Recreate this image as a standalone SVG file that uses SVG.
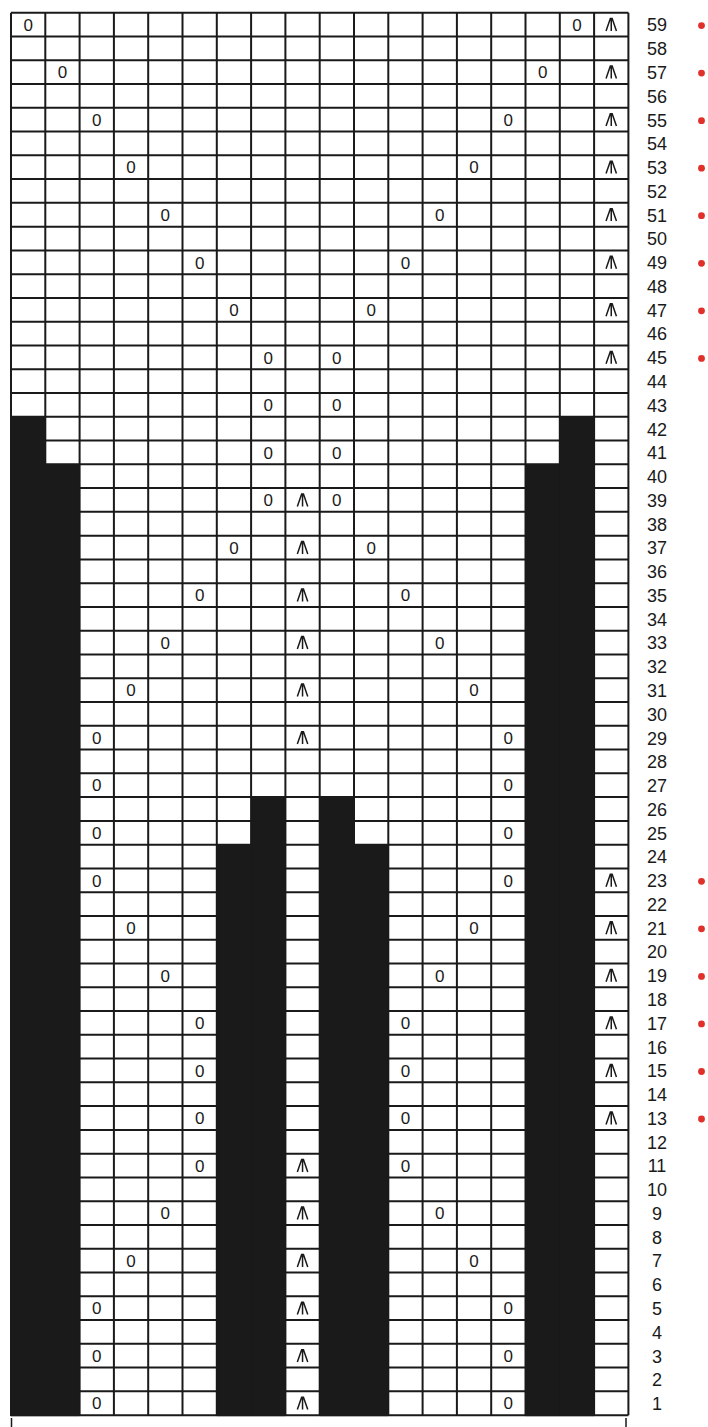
<svg xmlns="http://www.w3.org/2000/svg" width="708" height="1427" viewBox="0 0 708 1427">
<defs>
<style>
.grid{fill:none;stroke:#1a1a1a;stroke-width:2}
.blk{fill:#1a1a1a}
.yo{font-family:"Liberation Sans",Arial,sans-serif;font-size:17px;fill:#1a1a1a;text-anchor:middle}
.lbl{font-family:"Liberation Sans",Arial,sans-serif;font-size:18px;fill:#1a1a1a;text-anchor:middle}
.dot{fill:#e0302a}
</style>
<g id="dec"><path d="M-5.2,6.2 L-0.9,-6.2 H0.9 L5.2,6.2 M0,-6.2 V6.2" fill="none" stroke="#1a1a1a" stroke-width="1.5"/></g>
</defs>
<rect width="708" height="1427" fill="#ffffff"/>
<g id="grid">
<path class="grid" d="M11,12.7H628.4M11,36.47H628.4M11,60.24H628.4M11,84.01H628.4M11,107.78H628.4M11,131.55H628.4M11,155.32H628.4M11,179.09H628.4M11,202.86H628.4M11,226.63H628.4M11,250.4H628.4M11,274.17H628.4M11,297.94H628.4M11,321.71H628.4M11,345.48H628.4M11,369.25H628.4M11,393.02H628.4M11,416.79H628.4M11,440.56H628.4M11,464.33H628.4M11,488.1H628.4M11,511.87H628.4M11,535.64H628.4M11,559.41H628.4M11,583.18H628.4M11,606.95H628.4M11,630.72H628.4M11,654.49H628.4M11,678.26H628.4M11,702.03H628.4M11,725.8H628.4M11,749.57H628.4M11,773.34H628.4M11,797.11H628.4M11,820.88H628.4M11,844.65H628.4M11,868.42H628.4M11,892.19H628.4M11,915.96H628.4M11,939.73H628.4M11,963.5H628.4M11,987.27H628.4M11,1011.04H628.4M11,1034.81H628.4M11,1058.58H628.4M11,1082.35H628.4M11,1106.12H628.4M11,1129.89H628.4M11,1153.66H628.4M11,1177.43H628.4M11,1201.2H628.4M11,1224.97H628.4M11,1248.74H628.4M11,1272.51H628.4M11,1296.28H628.4M11,1320.05H628.4M11,1343.82H628.4M11,1367.59H628.4M11,1391.36H628.4M11,1415.13H628.4"/>
<path class="grid" d="M11,12.7V1415.13M45.3,12.7V1415.13M79.6,12.7V1415.13M113.9,12.7V1415.13M148.2,12.7V1415.13M182.5,12.7V1415.13M216.8,12.7V1415.13M251.1,12.7V1415.13M285.4,12.7V1415.13M319.7,12.7V1415.13M354,12.7V1415.13M388.3,12.7V1415.13M422.6,12.7V1415.13M456.9,12.7V1415.13M491.2,12.7V1415.13M525.5,12.7V1415.13M559.8,12.7V1415.13M594.1,12.7V1415.13M628.4,12.7V1415.13"/>
</g>
<g id="nostitch">
<rect class="blk" x="10" y="416.79" width="35.3" height="999.34"/>
<rect class="blk" x="45.3" y="464.33" width="34.3" height="951.8"/>
<rect class="blk" x="559.8" y="416.79" width="34.3" height="999.34"/>
<rect class="blk" x="525.5" y="464.33" width="34.3" height="951.8"/>
<rect class="blk" x="251.1" y="797.11" width="34.3" height="619.02"/>
<rect class="blk" x="319.7" y="797.11" width="34.3" height="619.02"/>
<rect class="blk" x="216.8" y="844.65" width="34.3" height="571.48"/>
<rect class="blk" x="354" y="844.65" width="34.3" height="571.48"/>
</g>
<g id="yarnovers">
<text class="yo" x="28.15" y="30.8">0</text><text class="yo" x="576.95" y="30.8">0</text>
<text class="yo" x="62.45" y="78.3">0</text><text class="yo" x="542.65" y="78.3">0</text>
<text class="yo" x="96.75" y="125.9">0</text><text class="yo" x="508.35" y="125.9">0</text>
<text class="yo" x="131.05" y="173.4">0</text><text class="yo" x="474.05" y="173.4">0</text>
<text class="yo" x="165.35" y="220.9">0</text><text class="yo" x="439.75" y="220.9">0</text>
<text class="yo" x="199.65" y="268.5">0</text><text class="yo" x="405.45" y="268.5">0</text>
<text class="yo" x="233.95" y="316.0">0</text><text class="yo" x="371.15" y="316.0">0</text>
<text class="yo" x="268.25" y="363.6">0</text><text class="yo" x="336.85" y="363.6">0</text>
<text class="yo" x="268.25" y="411.1">0</text><text class="yo" x="336.85" y="411.1">0</text>
<text class="yo" x="268.25" y="458.6">0</text><text class="yo" x="336.85" y="458.6">0</text>
<text class="yo" x="268.25" y="506.2">0</text><text class="yo" x="336.85" y="506.2">0</text>
<text class="yo" x="233.95" y="553.7">0</text><text class="yo" x="371.15" y="553.7">0</text>
<text class="yo" x="199.65" y="601.3">0</text><text class="yo" x="405.45" y="601.3">0</text>
<text class="yo" x="165.35" y="648.8">0</text><text class="yo" x="439.75" y="648.8">0</text>
<text class="yo" x="131.05" y="696.3">0</text><text class="yo" x="474.05" y="696.3">0</text>
<text class="yo" x="96.75" y="743.9">0</text><text class="yo" x="508.35" y="743.9">0</text>
<text class="yo" x="96.75" y="791.4">0</text><text class="yo" x="508.35" y="791.4">0</text>
<text class="yo" x="96.75" y="839.0">0</text><text class="yo" x="508.35" y="839.0">0</text>
<text class="yo" x="96.75" y="886.5">0</text><text class="yo" x="508.35" y="886.5">0</text>
<text class="yo" x="131.05" y="934.0">0</text><text class="yo" x="474.05" y="934.0">0</text>
<text class="yo" x="165.35" y="981.6">0</text><text class="yo" x="439.75" y="981.6">0</text>
<text class="yo" x="199.65" y="1029.1">0</text><text class="yo" x="405.45" y="1029.1">0</text>
<text class="yo" x="199.65" y="1076.7">0</text><text class="yo" x="405.45" y="1076.7">0</text>
<text class="yo" x="199.65" y="1124.2">0</text><text class="yo" x="405.45" y="1124.2">0</text>
<text class="yo" x="199.65" y="1171.7">0</text><text class="yo" x="405.45" y="1171.7">0</text>
<text class="yo" x="165.35" y="1219.3">0</text><text class="yo" x="439.75" y="1219.3">0</text>
<text class="yo" x="131.05" y="1266.8">0</text><text class="yo" x="474.05" y="1266.8">0</text>
<text class="yo" x="96.75" y="1314.4">0</text><text class="yo" x="508.35" y="1314.4">0</text>
<text class="yo" x="96.75" y="1361.9">0</text><text class="yo" x="508.35" y="1361.9">0</text>
<text class="yo" x="96.75" y="1409.4">0</text><text class="yo" x="508.35" y="1409.4">0</text>
</g>
<g id="decreases">
<use href="#dec" x="611.25" y="24.8"/>
<use href="#dec" x="611.25" y="72.3"/>
<use href="#dec" x="611.25" y="119.9"/>
<use href="#dec" x="611.25" y="167.4"/>
<use href="#dec" x="611.25" y="214.9"/>
<use href="#dec" x="611.25" y="262.5"/>
<use href="#dec" x="611.25" y="310.0"/>
<use href="#dec" x="611.25" y="357.6"/>
<use href="#dec" x="302.55" y="500.2"/>
<use href="#dec" x="302.55" y="547.7"/>
<use href="#dec" x="302.55" y="595.3"/>
<use href="#dec" x="302.55" y="642.8"/>
<use href="#dec" x="302.55" y="690.3"/>
<use href="#dec" x="302.55" y="737.9"/>
<use href="#dec" x="611.25" y="880.5"/>
<use href="#dec" x="611.25" y="928.0"/>
<use href="#dec" x="611.25" y="975.6"/>
<use href="#dec" x="611.25" y="1023.1"/>
<use href="#dec" x="611.25" y="1070.7"/>
<use href="#dec" x="611.25" y="1118.2"/>
<use href="#dec" x="302.55" y="1165.7"/>
<use href="#dec" x="302.55" y="1213.3"/>
<use href="#dec" x="302.55" y="1260.8"/>
<use href="#dec" x="302.55" y="1308.4"/>
<use href="#dec" x="302.55" y="1355.9"/>
<use href="#dec" x="302.55" y="1403.4"/>
</g>
<g id="rownumbers">
<text class="lbl" x="657" y="31.4">59</text>
<text class="lbl" x="657" y="55.2">58</text>
<text class="lbl" x="657" y="78.9">57</text>
<text class="lbl" x="657" y="102.7">56</text>
<text class="lbl" x="657" y="126.5">55</text>
<text class="lbl" x="657" y="150.2">54</text>
<text class="lbl" x="657" y="174.0">53</text>
<text class="lbl" x="657" y="197.8">52</text>
<text class="lbl" x="657" y="221.5">51</text>
<text class="lbl" x="657" y="245.3">50</text>
<text class="lbl" x="657" y="269.1">49</text>
<text class="lbl" x="657" y="292.9">48</text>
<text class="lbl" x="657" y="316.6">47</text>
<text class="lbl" x="657" y="340.4">46</text>
<text class="lbl" x="657" y="364.2">45</text>
<text class="lbl" x="657" y="387.9">44</text>
<text class="lbl" x="657" y="411.7">43</text>
<text class="lbl" x="657" y="435.5">42</text>
<text class="lbl" x="657" y="459.2">41</text>
<text class="lbl" x="657" y="483.0">40</text>
<text class="lbl" x="657" y="506.8">39</text>
<text class="lbl" x="657" y="530.6">38</text>
<text class="lbl" x="657" y="554.3">37</text>
<text class="lbl" x="657" y="578.1">36</text>
<text class="lbl" x="657" y="601.9">35</text>
<text class="lbl" x="657" y="625.6">34</text>
<text class="lbl" x="657" y="649.4">33</text>
<text class="lbl" x="657" y="673.2">32</text>
<text class="lbl" x="657" y="696.9">31</text>
<text class="lbl" x="657" y="720.7">30</text>
<text class="lbl" x="657" y="744.5">29</text>
<text class="lbl" x="657" y="768.3">28</text>
<text class="lbl" x="657" y="792.0">27</text>
<text class="lbl" x="657" y="815.8">26</text>
<text class="lbl" x="657" y="839.6">25</text>
<text class="lbl" x="657" y="863.3">24</text>
<text class="lbl" x="657" y="887.1">23</text>
<text class="lbl" x="657" y="910.9">22</text>
<text class="lbl" x="657" y="934.6">21</text>
<text class="lbl" x="657" y="958.4">20</text>
<text class="lbl" x="657" y="982.2">19</text>
<text class="lbl" x="657" y="1006.0">18</text>
<text class="lbl" x="657" y="1029.7">17</text>
<text class="lbl" x="657" y="1053.5">16</text>
<text class="lbl" x="657" y="1077.3">15</text>
<text class="lbl" x="657" y="1101.0">14</text>
<text class="lbl" x="657" y="1124.8">13</text>
<text class="lbl" x="657" y="1148.6">12</text>
<text class="lbl" x="657" y="1172.3">11</text>
<text class="lbl" x="657" y="1196.1">10</text>
<text class="lbl" x="657" y="1219.9">9</text>
<text class="lbl" x="657" y="1243.7">8</text>
<text class="lbl" x="657" y="1267.4">7</text>
<text class="lbl" x="657" y="1291.2">6</text>
<text class="lbl" x="657" y="1315.0">5</text>
<text class="lbl" x="657" y="1338.7">4</text>
<text class="lbl" x="657" y="1362.5">3</text>
<text class="lbl" x="657" y="1386.3">2</text>
<text class="lbl" x="657" y="1410.0">1</text>
</g>
<g id="markers">
<circle class="dot" cx="701.5" cy="25.6" r="3.4"/>
<circle class="dot" cx="701.5" cy="73.1" r="3.4"/>
<circle class="dot" cx="701.5" cy="120.7" r="3.4"/>
<circle class="dot" cx="701.5" cy="168.2" r="3.4"/>
<circle class="dot" cx="701.5" cy="215.7" r="3.4"/>
<circle class="dot" cx="701.5" cy="263.3" r="3.4"/>
<circle class="dot" cx="701.5" cy="310.8" r="3.4"/>
<circle class="dot" cx="701.5" cy="358.4" r="3.4"/>
<circle class="dot" cx="701.5" cy="881.3" r="3.4"/>
<circle class="dot" cx="701.5" cy="928.8" r="3.4"/>
<circle class="dot" cx="701.5" cy="976.4" r="3.4"/>
<circle class="dot" cx="701.5" cy="1023.9" r="3.4"/>
<circle class="dot" cx="701.5" cy="1071.5" r="3.4"/>
<circle class="dot" cx="701.5" cy="1119.0" r="3.4"/>
</g>
<g id="bracket">
<path d="M11.5,1418V1427M626,1418V1427" fill="none" stroke="#1a1a1a" stroke-width="1.5"/>
</g>
</svg>
